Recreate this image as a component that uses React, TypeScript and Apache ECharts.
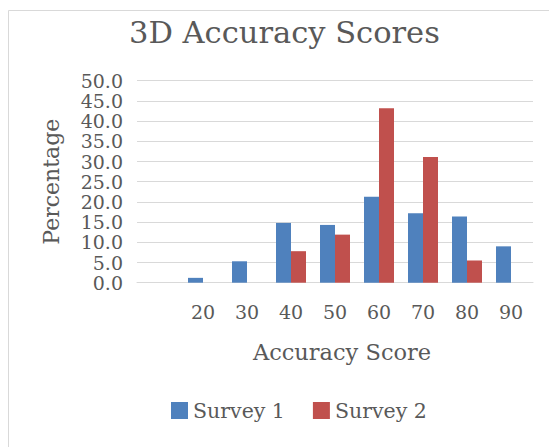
import React, { useEffect, useRef } from "react";
import * as echarts from "echarts";

const categories = ["", "20", "30", "40", "50", "60", "70", "80", "90"];
const survey1 = [null, 1.2, 5.3, 14.8, 14.3, 21.3, 17.2, 16.4, 9.0];
const survey2 = [null, null, null, 7.8, 11.9, 43.2, 31.1, 5.5, null];
const seriesNames = ["Survey 1", "Survey 2"];
const colors = ["#4F81BD", "#C0504D"];

const FONT = "DejaVu Serif";
const TXT = "#595959";

export default function App() {
  const ref = useRef<HTMLDivElement>(null);
  useEffect(() => {
    if (!ref.current) return;
    const chart = echarts.init(ref.current, undefined, { renderer: "svg" });
    chart.setOption({
      animation: false,
      backgroundColor: "#ffffff",
      title: {
        text: "3D Accuracy Scores",
        left: 124,
        top: 12,
        textStyle: { fontFamily: FONT, fontSize: 30.5, fontWeight: "normal", color: TXT },
      },
      graphic: [
        {
          type: "rect",
          shape: { x: 8.5, y: 10.5, width: 600, height: 500 },
          style: { fill: "none", stroke: "#d9d9d9", lineWidth: 1 },
          silent: true,
        },
      ],
      legend: {
        left: 166,
        top: 395,
        itemWidth: 17,
        itemHeight: 17,
        itemGap: 28,
        icon: "rect",
        textStyle: { fontFamily: FONT, fontSize: 20.5, color: TXT },
        data: seriesNames,
      },
      grid: {
        left: 137,
        top: 80.7,
        width: 396,
        height: 202,
        outerBoundsMode: "none",
      },
      xAxis: {
        type: "category",
        data: categories,
        name: "Accuracy Score",
        nameLocation: "middle",
        nameGap: 58,
        nameTextStyle: { fontFamily: FONT, fontSize: 22.5, color: TXT, padding: [0, 0, 0, 14] },
        axisLine: { show: true, lineStyle: { color: "#d9d9d9" } },
        axisTick: { show: false },
        axisLabel: { fontFamily: FONT, fontSize: 19, color: TXT, margin: 20 },
      },
      yAxis: {
        type: "value",
        min: 0,
        max: 50,
        interval: 5,
        name: "Percentage",
        nameLocation: "middle",
        nameGap: 75,
        nameRotate: 90,
        nameTextStyle: { fontFamily: FONT, fontSize: 22, color: TXT },
        axisLine: { show: false },
        axisTick: { show: false },
        splitLine: { show: true, lineStyle: { color: "#d9d9d9", width: 1 } },
        axisLabel: {
          fontFamily: FONT,
          fontSize: 19,
          color: TXT,
          margin: 14,
          formatter: (v: number) => v.toFixed(1),
        },
      },
      series: [
        {
          name: seriesNames[0],
          type: "bar",
          data: survey1,
          barWidth: 15,
          barGap: "0%",
          itemStyle: { color: colors[0] },
        },
        {
          name: seriesNames[1],
          type: "bar",
          data: survey2,
          barWidth: 15,
          barGap: "0%",
          itemStyle: { color: colors[1] },
        },
      ],
    });
    return () => chart.dispose();
  }, []);
  return (
    <div
      ref={ref}
      style={{ position: "absolute", left: 0, top: 0, width: 549, height: 447 }}
    />
  );
}
